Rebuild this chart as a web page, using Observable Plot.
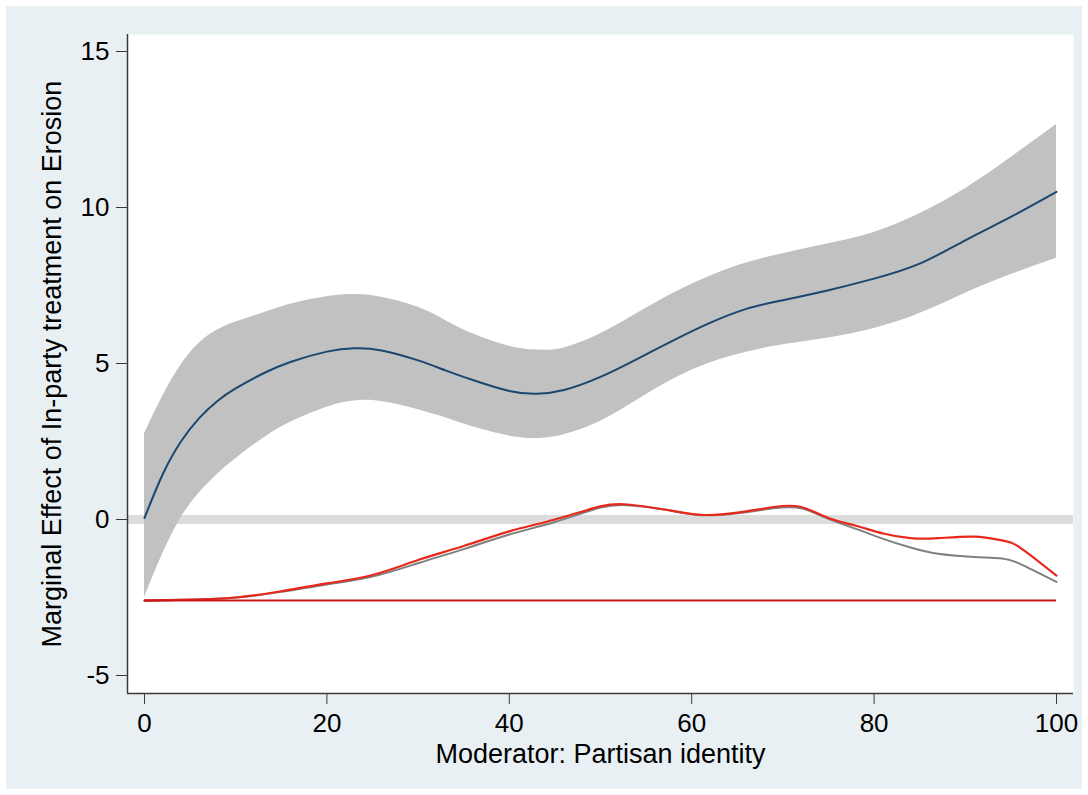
<!DOCTYPE html>
<html><head><meta charset="utf-8">
<script src="https://cdn.jsdelivr.net/npm/d3@7"></script>
<script src="https://cdn.jsdelivr.net/npm/@observablehq/plot@0.6"></script>
<style>
html,body{margin:0;padding:0;background:#fff;}
#wrap{position:relative;width:1088px;height:795px;overflow:hidden;}
#panel{position:absolute;left:6px;top:6px;width:1076px;height:783px;background:#e9f0f3;}
#chart{position:absolute;left:0;top:0;}
</style></head><body>
<div id="wrap"><div id="panel"></div><div id="chart"></div></div>
<script>
const xTitle = "Moderator: Partisan identity";
const yTitle = "Marginal Effect of In-party treatment on Erosion";
const xTicks = [0, 20, 40, 60, 80, 100];
const yTicks = [-5, 0, 5, 10, 15];

// Marginal effect with confidence band
const meX     = [0, 2, 4, 6, 8, 10, 13, 16, 20, 23, 26, 30, 33, 36, 40, 43, 46, 50, 54, 58, 62, 66, 70, 75, 80, 85, 90, 95, 100];
const meY     = [0.05, 1.45, 2.5, 3.25, 3.8, 4.2, 4.68, 5.05, 5.38, 5.49, 5.42, 5.1, 4.78, 4.47, 4.12, 4.03, 4.15, 4.57, 5.14, 5.74, 6.3, 6.75, 7.03, 7.35, 7.72, 8.2, 8.95, 9.7, 10.5];
const ciUpper = [2.75, 3.95, 4.95, 5.65, 6.07, 6.33, 6.62, 6.9, 7.14, 7.21, 7.12, 6.8, 6.38, 5.95, 5.55, 5.43, 5.5, 5.95, 6.6, 7.25, 7.8, 8.22, 8.52, 8.84, 9.2, 9.8, 10.6, 11.6, 12.66];
const ciLower = [-2.5, -1.1, 0.05, 0.85, 1.45, 1.95, 2.6, 3.12, 3.6, 3.8, 3.78, 3.52, 3.26, 2.97, 2.68, 2.6, 2.72, 3.15, 3.82, 4.5, 5.02, 5.36, 5.6, 5.82, 6.12, 6.6, 7.25, 7.85, 8.37];

// Distribution curves of the moderator (drawn on the lower part)
const distX    = [0, 5, 10, 15, 20, 25, 30, 35, 40, 45, 50, 53, 57, 61, 65, 69, 72, 75, 78, 81, 84, 87, 91, 94, 96, 100];
const distRed  = [-2.6, -2.57, -2.5, -2.3, -2.05, -1.78, -1.3, -0.85, -0.38, 0.0, 0.42, 0.48, 0.32, 0.15, 0.22, 0.4, 0.4, 0.05, -0.2, -0.45, -0.6, -0.6, -0.55, -0.67, -0.9, -1.8];
const distGray = [-2.6, -2.57, -2.5, -2.32, -2.08, -1.83, -1.4, -0.95, -0.48, -0.08, 0.38, 0.46, 0.32, 0.14, 0.2, 0.36, 0.36, 0.02, -0.3, -0.62, -0.9, -1.1, -1.2, -1.25, -1.42, -2.0];
const distBase = -2.6;
const distRange = [0, 100];
const zeroRef = 0;

const xDomain = [-1.864, 101.864];
const yDomain = [-5.577, 15.545];

const band = meX.map((x, i) => ({x, y: meY[i], lo: ciLower[i], hi: ciUpper[i]}));
const red = distX.map((x, i) => ({x, y: distRed[i]}));
const gray = distX.map((x, i) => ({x, y: distGray[i]}));

const chart = Plot.plot({
  width: 1088,
  height: 795,
  marginLeft: 127,
  marginRight: 15,
  marginTop: 34,
  marginBottom: 102,
  style: {background: "transparent", fontFamily: "'Liberation Sans', Arial, Helvetica, sans-serif", fontSize: "26px", color: "#000"},
  x: {domain: xDomain},
  y: {domain: yDomain},
  marks: [
    Plot.frame({fill: "#fff", stroke: null}),
    Plot.ruleY([zeroRef], {stroke: "#dcdcdc", strokeWidth: 9}),
    Plot.areaY(band, {x: "x", y1: "lo", y2: "hi", fill: "#c1c1c1", curve: "natural"}),
    Plot.line(band, {x: "x", y: "y", stroke: "#1a476f", strokeWidth: 2, curve: "natural"}),
    Plot.line(gray, {x: "x", y: "y", stroke: "#7f7f7f", strokeWidth: 2, curve: "natural"}),
    Plot.line(red, {x: "x", y: "y", stroke: "#e8281b", strokeWidth: 2.2, curve: "natural"}),
    Plot.ruleY([distBase], {x1: distRange[0], x2: distRange[1], stroke: "#c8161d", strokeWidth: 2}),
    Plot.ruleX([xDomain[0]], {stroke: "#3a3a3a", strokeWidth: 1.5}),
    Plot.ruleY([yDomain[0]], {stroke: "#3a3a3a", strokeWidth: 1.5}),
    Plot.axisX({ticks: xTicks, tickFormat: d => String(d), tickSize: 11, tickPadding: 9, fontSize: 26, label: null, stroke: "#3a3a3a"}),
    Plot.axisY({ticks: yTicks, tickFormat: d => String(d), tickSize: 11, tickPadding: 7, fontSize: 26, label: null, stroke: "#3a3a3a"}),
    Plot.text([xTitle], {text: d => d, frameAnchor: "bottom", dy: 69, lineAnchor: "bottom", textAnchor: "middle", fontSize: 27, fill: "#000"}),
    Plot.text([yTitle], {text: d => d, frameAnchor: "left", rotate: -90, dx: -75, lineAnchor: "middle", textAnchor: "middle", fontSize: 27, fill: "#000"})
  ]
});
document.getElementById("chart").appendChild(chart);
</script>
</body></html>
